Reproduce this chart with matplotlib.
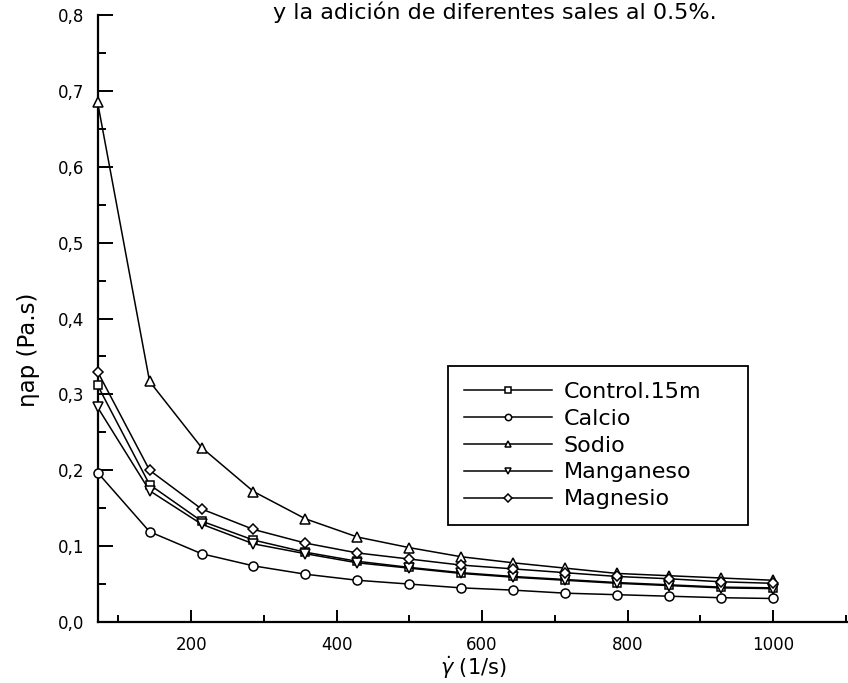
import matplotlib
matplotlib.use("Agg")
import matplotlib.pyplot as plt
from matplotlib.ticker import MultipleLocator, FuncFormatter
from typing import List

plt.rcParams['font.family'] = ['DejaVu Sans']
plt.rcParams['mathtext.fontset'] = 'dejavusans'

# shear rate (1/s)
shear_rate : List[float] = [71.4, 142.9, 214.3, 285.7, 357.1, 428.6, 500.0,
                            571.4, 642.9, 714.3, 785.7, 857.1, 928.6, 1000.0]

# apparent viscosity (Pa.s) for each salt
control : List[float] = [0.312, 0.181, 0.133, 0.108, 0.092, 0.080, 0.072,
                         0.065, 0.060, 0.056, 0.052, 0.049, 0.046, 0.045]
calcio : List[float] = [0.197, 0.119, 0.090, 0.074, 0.063, 0.055, 0.050,
                        0.045, 0.042, 0.038, 0.036, 0.034, 0.032, 0.031]
sodio : List[float] = [0.685, 0.317, 0.230, 0.172, 0.136, 0.112, 0.098,
                       0.086, 0.078, 0.071, 0.064, 0.061, 0.058, 0.055]
manganeso : List[float] = [0.283, 0.173, 0.129, 0.103, 0.090, 0.078, 0.071,
                           0.064, 0.059, 0.055, 0.051, 0.048, 0.045, 0.044]
magnesio : List[float] = [0.330, 0.200, 0.149, 0.122, 0.104, 0.091, 0.083,
                          0.075, 0.070, 0.065, 0.060, 0.057, 0.053, 0.051]

series_names : List[str] = ['Control.15m', 'Calcio', 'Sodio', 'Manganeso', 'Magnesio']
series_markers : List[str] = ['s', 'o', '^', 'v', 'D']


def viscosity_plot() -> None:
    fig = plt.figure(figsize=(8.48, 6.83), dpi=100)
    ax = fig.add_axes([0.1156, 0.0893, 0.8844, 0.8887])

    all_series = [control, calcio, sodio, manganeso, magnesio]
    for values, name, mk in zip(all_series, series_names, series_markers):
        # squares and diamonds look bigger than circles at the same size
        size = 5.5 if mk in ('s', 'D') else 6.5
        ax.plot(shear_rate, values, color='black', linewidth=1.1,
                marker=mk, markersize=size, markerfacecolor='white',
                markeredgecolor='black', markeredgewidth=1.1,
                label=name, clip_on=False, zorder=3)

    ax.set_xlim(72, 1103)
    ax.set_ylim(0.0, 0.8)

    ax.spines['top'].set_visible(False)
    ax.spines['right'].set_visible(False)
    for side in ['left', 'bottom']:
        ax.spines[side].set_linewidth(1.6)

    ax.xaxis.set_major_locator(MultipleLocator(200))
    ax.xaxis.set_minor_locator(MultipleLocator(100))
    ax.yaxis.set_major_locator(MultipleLocator(0.1))
    ax.yaxis.set_minor_locator(MultipleLocator(0.05))
    ax.yaxis.set_major_formatter(FuncFormatter(lambda v, p: f"{v:.1f}".replace('.', ',')))

    ax.tick_params(axis='both', which='both', direction='in', width=1.4,
                   labelsize=12, pad=10)
    ax.tick_params(axis='y', which='major', length=11)
    ax.tick_params(axis='y', which='minor', length=6)
    ax.tick_params(axis='x', which='major', length=9)
    ax.tick_params(axis='x', which='minor', length=5)

    ax.set_xlabel(r"$\dot{\gamma}$ (1/s)", fontsize=15, labelpad=0)
    ax.set_ylabel("ηap (Pa.s)", fontsize=16.5)
    ax.yaxis.set_label_coords(-0.077, 0.448)

    fig.text(0.584, 0.972, "y la adición de diferentes sales al 0.5%.",
             fontsize=16, ha='center', va='baseline')

    leg = ax.legend(loc='lower left', bbox_to_anchor=(0.4667, 0.160, 0.4, 0.262),
                    mode='expand', borderaxespad=0.0, fontsize=16,
                    handlelength=4.0, handletextpad=0.5, labelspacing=0.31,
                    borderpad=0.7, markerscale=0.7, fancybox=False,
                    framealpha=1.0, edgecolor='black')
    leg.get_frame().set_linewidth(1.3)

    plt.savefig("out.png", dpi=100)


if (__name__ == '__main__'):
    viscosity_plot()
